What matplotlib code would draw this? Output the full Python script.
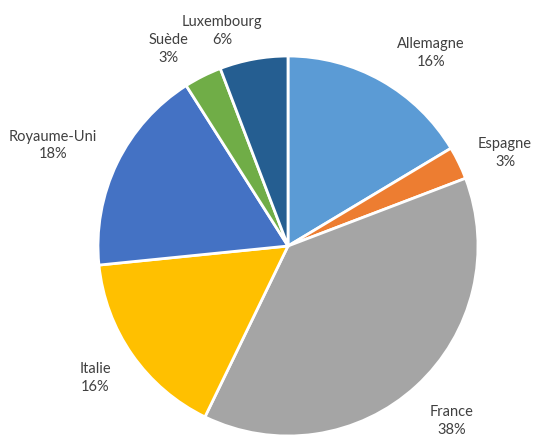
import numpy as np
import matplotlib.pyplot as plt

plt.rcParams['font.family'] = ['Lato', 'DejaVu Sans']

pays = ["Allemagne", "Espagne", "France", "Italie", "Royaume-Uni", "Suède", "Luxembourg"]
parts = [16.4, 2.8, 38.0, 16.2, 17.6, 3.2, 5.8]
couleurs = ["#5B9BD5", "#ED7D31", "#A5A5A5", "#FFC000", "#4472C4", "#70AD47", "#255E91"]

# label placement (angle in degrees, distance in radii)
lab_ang = [53.5, 23.2, -46.9, 214.4, 156.9, 121.3, 107.1]
lab_dist = [1.264, 1.243, 1.262, 1.231, 1.344, 1.214, 1.184]

W, H = 533, 436
cx, cy, R = 288, 246, 190

fig = plt.figure(figsize=(W / 100, H / 100), dpi=100)
ax = fig.add_axes([0, 0, 1, 1])
ax.pie(parts, colors=couleurs, startangle=90, counterclock=False, radius=1,
       wedgeprops=dict(edgecolor="white", linewidth=2))
ax.set_xlim(-cx / R, (W - cx) / R)
ax.set_ylim(-(H - cy) / R, cy / R)
ax.set_aspect("equal")
ax.axis("off")

total = sum(parts)
for nom, v, a, d in zip(pays, parts, lab_ang, lab_dist):
    t = np.radians(a)
    ax.text(d * np.cos(t), d * np.sin(t), "%s\n%d%%" % (nom, round(100 * v / total)),
            ha="center", va="center", fontsize=10.5, color="#404040", linespacing=1.3)

plt.savefig("out.png", dpi=100)
